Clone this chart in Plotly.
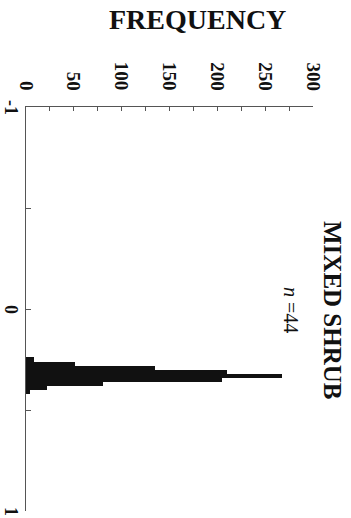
import plotly.graph_objects as go

# Histogram of values for the mixed-shrub sites (bin width 0.02)
bin_centers = [0.25, 0.27, 0.29, 0.31, 0.33, 0.35, 0.37, 0.39, 0.41]
frequency = [8, 51, 135, 210, 268, 205, 81, 22, 4]
bin_width = 0.02

freq_ticks = [0, 50, 100, 150, 200, 250, 300]
value_ticks = [-1, -0.5, 0, 0.5, 1]
value_labels = {-1: "-1", 0: "0", 1: "1"}

serif = "Liberation Serif"
ink = "#111111"

W, H = 351, 518
L, R, T, B = 26, 38, 107, 7
plot_w = W - L - R
plot_h = H - T - B


def px_x(px):
    return (px - L) / plot_w


def px_y(py):
    return 1 - (py - T) / plot_h


fig = go.Figure(
    go.Bar(
        x=frequency,
        y=bin_centers,
        width=bin_width,
        orientation="h",
        marker=dict(color=ink, line=dict(width=0)),
    )
)

fig.update_layout(
    width=W,
    height=H,
    margin=dict(l=L, r=R, t=T, b=B),
    paper_bgcolor="white",
    plot_bgcolor="white",
    showlegend=False,
    bargap=0,
    font=dict(family=serif, color=ink),
    xaxis=dict(
        side="top",
        range=[0, 300],
        tickmode="array",
        tickvals=list(range(0, 301, 25)),
        showticklabels=False,
        ticks="inside",
        ticklen=4,
        tickwidth=1,
        tickcolor="#555555",
        showline=True,
        linecolor="#555555",
        linewidth=1,
        showgrid=False,
        zeroline=False,
    ),
    yaxis=dict(
        range=[1, -1],
        tickmode="array",
        tickvals=value_ticks,
        showticklabels=False,
        ticks="inside",
        ticklen=5,
        tickwidth=1,
        tickcolor="#555555",
        showline=True,
        linecolor="#555555",
        linewidth=1,
        showgrid=False,
        zeroline=False,
    ),
)

# rotated frequency labels, bottom-aligned just above the top axis
for v in freq_ticks:
    fig.add_annotation(
        text=f"<b>{v}</b>", x=v, xref="x", y=px_y(93), yref="paper",
        xanchor="center", yanchor="bottom", showarrow=False, textangle=90,
        font=dict(family=serif, size=19, color=ink),
    )

# rotated value labels to the left of the value axis
for v, lab in value_labels.items():
    fig.add_annotation(
        text=f"<b>{lab}</b>", x=px_x(0), xref="paper", y=v, yref="y",
        xanchor="left", yanchor="middle", showarrow=False, textangle=90,
        borderpad=0, font=dict(family=serif, size=18, color=ink),
    )

fig.add_annotation(
    text="<b>FREQUENCY</b>", x=px_x(197), y=px_y(19),
    xref="paper", yref="paper", xanchor="center", yanchor="middle",
    showarrow=False, font=dict(family=serif, size=28, color=ink),
)
fig.add_annotation(
    text="<b>MIXED SHRUB</b>", x=px_x(333), y=px_y(310),
    xref="paper", yref="paper", xanchor="center", yanchor="middle",
    showarrow=False, textangle=90,
    font=dict(family=serif, size=25, color=ink),
)
fig.add_annotation(
    text="<i>n</i> =44", x=px_x(291), y=px_y(310),
    xref="paper", yref="paper", xanchor="center", yanchor="middle",
    showarrow=False, textangle=90,
    font=dict(family=serif, size=20, color=ink),
)

fig.write_html("out.html")
